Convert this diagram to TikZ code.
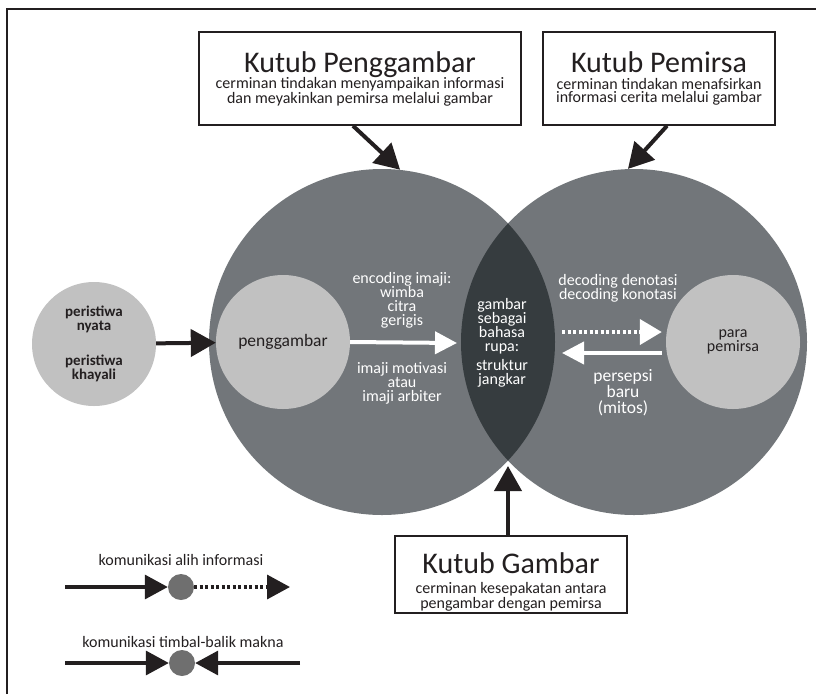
\documentclass[tikz,border=0pt]{standalone}
\usepackage{fontspec}
\setmainfont{Carlito}
\usetikzlibrary{arrows.meta}

\definecolor{ring}{HTML}{72767A}
\definecolor{lens}{HTML}{363C3F}
\definecolor{disc}{HTML}{C1C1C1}
\definecolor{ink}{HTML}{231F20}
\definecolor{legdotc}{HTML}{6F6F6F}

\tikzset{
  polebox/.style={draw=ink, line width=1.6pt, fill=white, inner sep=0pt},
  poletitle/.style={anchor=base, inner sep=0pt, text=ink,
    font=\fontsize{30}{32}\selectfont},
  polesub/.style={align=center, inner sep=0pt, text=ink,
    font=\fontsize{16}{13.5}\selectfont},
  bigcircle/.style={circle, fill=ring, minimum size=346pt, inner sep=0pt},
  disc/.style={circle, fill=disc, inner sep=0pt, text=ink, align=center},
  lbl/.style={align=center, inner sep=0pt, text=white,
    font=\fontsize{16}{14}\selectfont},
  blackarrow/.style={draw=ink, line width=4pt,
    -{Triangle[length=25pt,width=27pt]}},
  legarrow/.style={draw=ink, line width=3.5pt,
    -{Triangle[length=23pt,width=24pt]}},
  legdots/.style={draw=ink, line width=3.5pt, dash pattern=on 3pt off 2.5pt,
    -{Triangle[length=23pt,width=24pt]}},
  whitearrow/.style={draw=white, line width=4pt,
    -{Triangle[length=22pt,width=22pt]}},
  whitedots/.style={draw=white, line width=4pt, dash pattern=on 3pt off 2.5pt,
    -{Triangle[length=22pt,width=25pt]}},
  legtext/.style={inner sep=0pt, text=ink, font=\fontsize{16}{16}\selectfont},
  legdot/.style={circle, fill=legdotc, minimum size=26pt, inner sep=0pt},
}

\begin{document}
\begin{tikzpicture}[x=1pt,y=-1pt]
\useasboundingbox (0,0) rectangle (816,694);

% outer frame
\draw[ink, line width=2pt] (7,694) -- (7,9) -- (816,9);

% the two overlapping circles and their shared lens
\node[bigcircle] (L) at (382,342) {};
\node[bigcircle] (R) at (634,342) {};
\begin{scope}
  \clip (382,342) circle[radius=173pt];
  \fill[lens] (634,342) circle[radius=173pt];
\end{scope}
\coordinate (lensB) at (508,466);

% inner discs
\node[disc, minimum size=124pt, font=\bfseries\fontsize{15}{14}\selectfont]
  (PE) at (94,344) {peristiwa\\nyata\\[21pt]peristiwa\\khayali};
\node[disc, minimum size=134pt, font=\fontsize{17.5}{16}\selectfont]
  (PG) at (283,342) {penggambar};
\node[disc, minimum size=134pt, font=\fontsize{16}{14}\selectfont]
  (PM) at (733,342) {para\\pemirsa};

% pole boxes with their titles and descriptions
\node[polebox, minimum width=322pt, minimum height=93pt] (KP) at (360,78.5) {};
\node[poletitle] (KPt) at (360,72) {Kutub Penggambar};
\node[polesub] (KPs) at (360,92)
  {cerminan tindakan menyampaikan informasi\\dan meyakinkan pemirsa melalui gambar};

\node[polebox, minimum width=232pt, minimum height=93pt] (KM) at (659,78.5) {};
\node[poletitle] (KMt) at (659,72) {Kutub Pemirsa};
\node[polesub] (KMs) at (659,92)
  {cerminan tindakan menafsirkan\\informasi cerita melalui gambar};

\node[polebox, minimum width=232pt, minimum height=77pt] (KG) at (511,574.5) {};
\node[poletitle] (KGt) at (511,573) {Kutub Gambar};
\node[polesub] (KGs) at (511,597)
  {cerminan kesepakatan antara\\pengambar dengan pemirsa};

% labels on the circles
\node[lbl] (enc) at (402,300) {encoding imaji:\\wimba\\citra\\gerigis};
\node[lbl] (mot) at (402,383) {imaji motivasi\\atau\\imaji arbiter};
\node[lbl] (lensT) at (502,343) {gambar\\sebagai\\bahasa\\rupa:\\[5pt]struktur\\jangkar};
\node[lbl] (dec) at (618,288) {decoding denotasi\\decoding konotasi};
\node[lbl, font=\fontsize{17.5}{16}\selectfont] (per) at (623,393)
  {persepsi\\baru\\(mitos)};

% connectors
\draw[blackarrow] (PE) -- (PG);
\draw[blackarrow] ([xshift=-7pt]KP.south) -- (L.84);
\draw[blackarrow] ([xshift=8pt]KM.south) -- (R.92);
\draw[blackarrow] (KG.north -| lensB) -- (lensB);

\coordinate (encTip) at (457,343);
\draw[whitearrow] (PG.east) -- (encTip);
\coordinate (decStart) at (562,332);
\draw[whitedots, shorten >=4pt] (decStart) -- (PM.west |- decStart);
\coordinate (perTip) at (562,353);
\draw[whitearrow, shorten <=4pt] (PM.west |- perTip) -- (perTip);

% legend
\node[legtext] (lg1) at (181,560) {komunikasi alih informasi};
\node[legdot] (d1) at (181,587) {};
\coordinate (a1) at (65,587);
\coordinate (b1) at (290,587);
\draw[legarrow] (a1) -- (d1);
\draw[legdots] (d1) -- (b1);

\node[legtext] (lg2) at (183,642) {komunikasi timbal-balik makna};
\node[legdot] (d2) at (182,663) {};
\coordinate (a2) at (65,663);
\coordinate (c2) at (300,663);
\draw[legarrow] (a2) -- (d2);
\draw[legarrow] (c2) -- (d2);
\end{tikzpicture}
\end{document}
